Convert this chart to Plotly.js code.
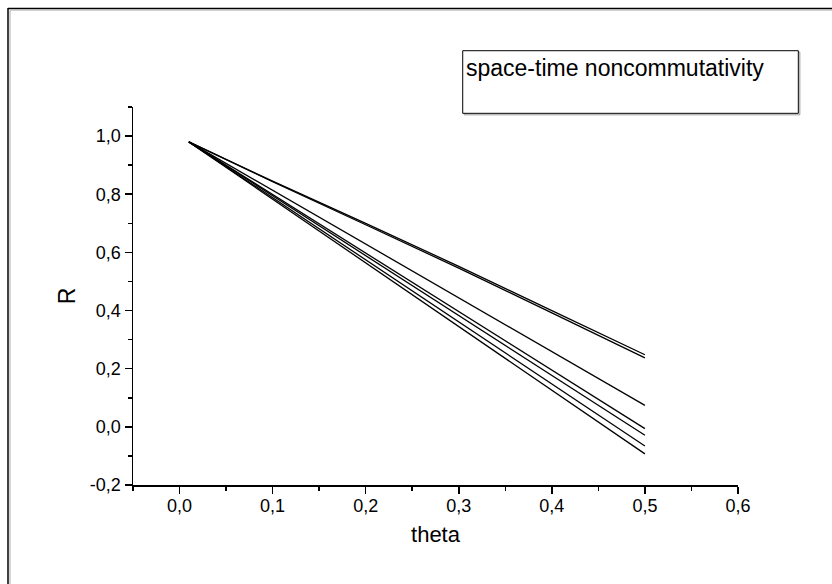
<!DOCTYPE html>
<html>
<head>
<meta charset="utf-8">
<script src="https://cdn.plot.ly/plotly-3.0.1.min.js"></script>
<style>html,body{margin:0;padding:0;background:#fff;}#chart{width:832px;height:584px;}</style>
</head>
<body>
<div id="chart"></div>
<script>
// theta values where curves were read
const theta = [0.01, 0.1, 0.2, 0.3, 0.4, 0.5];
// R values for each curve
const R1 = [0.980, 0.845, 0.700, 0.552, 0.400, 0.248];
const R2 = [0.980, 0.843, 0.695, 0.546, 0.392, 0.237];
const R3 = [0.980, 0.814, 0.629, 0.444, 0.259, 0.074];
const R4 = [0.980, 0.799, 0.598, 0.397, 0.195, -0.006];
const R5 = [0.980, 0.795, 0.589, 0.383, 0.177, -0.029];
const R6 = [0.980, 0.788, 0.574, 0.361, 0.147, -0.066];
const R7 = [0.980, 0.783, 0.564, 0.345, 0.126, -0.093];
const seriesList = [R1, R2, R3, R4, R5, R6, R7];
// tick labels
const xTickVals = [0.0, 0.1, 0.2, 0.3, 0.4, 0.5, 0.6];
const xTickText = ['0,0', '0,1', '0,2', '0,3', '0,4', '0,5', '0,6'];
const yTickVals = [-0.2, 0.0, 0.2, 0.4, 0.6, 0.8, 1.0];
const yTickText = ['-0,2', '0,0', '0,2', '0,4', '0,6', '0,8', '1,0'];
const legendText = 'space-time noncommutativity';
const xTitle = 'theta';
const yTitle = 'R';

const FONT = 'Liberation Sans, Arial, sans-serif';
const traces = seriesList.map(ys => ({
  x: theta, y: ys, mode: 'lines', type: 'scatter',
  line: {color: '#000', width: 1.3}, showlegend: false, hoverinfo: 'skip'
}));

const axisCommon = {
  showgrid: false, zeroline: false, showline: true, linecolor: '#000', linewidth: 1.5,
  ticks: 'outside', ticklen: 7, tickwidth: 1.5, tickcolor: '#000',
  tickfont: {family: FONT, size: 18, color: '#000'}, tickmode: 'array',
  mirror: false
};

const layout = {
  width: 832, height: 584,
  margin: {l: 133, r: 94, t: 107, b: 99},
  paper_bgcolor: '#fff', plot_bgcolor: '#fff',
  font: {family: FONT, color: '#000'},
  xaxis: Object.assign({}, axisCommon, {
    range: [-0.05, 0.6], tickvals: xTickVals, ticktext: xTickText, ticklabelstandoff: -3,
    minor: {tickmode: 'linear', dtick: 0.05, tick0: 0, ticks: 'outside', ticklen: 4, tickwidth: 1.5, tickcolor: '#000'},
    title: {text: xTitle, font: {family: FONT, size: 22, color: '#000'}, standoff: 11}
  }),
  yaxis: Object.assign({}, axisCommon, {
    range: [-0.2, 1.1], tickvals: yTickVals, ticktext: yTickText,
    minor: {tickmode: 'linear', dtick: 0.1, tick0: 0, ticks: 'outside', ticklen: 4, tickwidth: 1.5, tickcolor: '#000'},
    title: {text: yTitle, font: {family: FONT, size: 23, color: '#000'}, standoff: 8}
  }),
  shapes: [
    // outer frame
    {type: 'line', xref: 'paper', yref: 'paper', x0: -0.2066, x1: -0.2066, y0: 1.262, y1: -0.27, line: {color: '#000', width: 1.5}},
    {type: 'line', xref: 'paper', yref: 'paper', x0: -0.2066, x1: 1.476, y0: 1.2606, y1: 1.2606, line: {color: '#000', width: 1.5}},
    {type: 'line', xref: 'paper', yref: 'paper', x0: -0.2033, x1: -0.2033, y0: 1.256, y1: -0.27, line: {color: '#aaa', width: 1}},
    {type: 'line', xref: 'paper', yref: 'paper', x0: -0.2033, x1: 1.474, y0: 1.2565, y1: 1.2565, line: {color: '#aaa', width: 1}},
    {type: 'line', xref: 'paper', yref: 'paper', x0: 1.4765, x1: 1.4765, y0: 1.2606, y1: -0.27, line: {color: '#000', width: 1}},
    // legend box shadow and box
    {type: 'rect', xref: 'paper', yref: 'paper', x0: 0.5475, x1: 1.1022, y0: 1.145, y1: 0.9793, line: {color: '#999', width: 1}, fillcolor: 'rgba(0,0,0,0)'},
    {type: 'rect', xref: 'paper', yref: 'paper', x0: 0.5450, x1: 1.0997, y0: 1.1489, y1: 0.9833, line: {color: '#000', width: 1}, fillcolor: '#fff'}
  ],
  annotations: [
    {text: legendText, xref: 'paper', yref: 'paper', x: 0.5488, y: 1.1032, xanchor: 'left', yanchor: 'middle',
     showarrow: false, font: {family: FONT, size: 23, color: '#000'}, borderpad: 0}
  ]
};

Plotly.newPlot('chart', traces, layout, {staticPlot: true, displayModeBar: false});
</script>
</body>
</html>
